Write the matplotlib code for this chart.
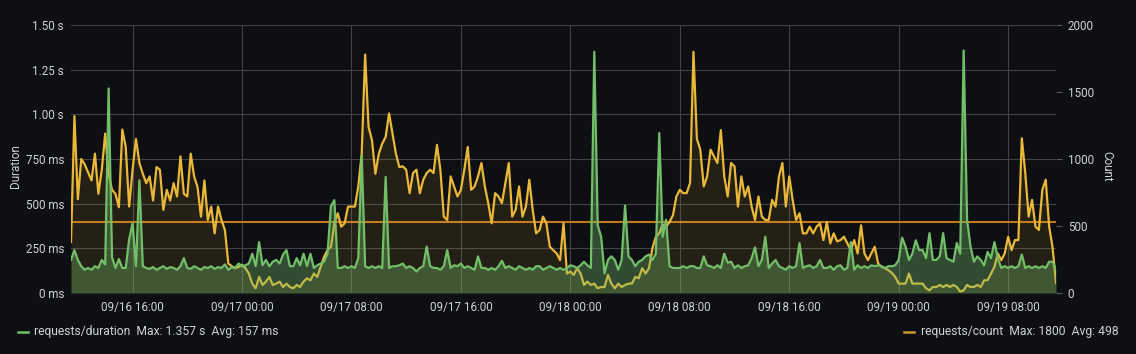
import numpy as np
import pandas as pd
import matplotlib
matplotlib.use('Agg')
import matplotlib.pyplot as plt
import matplotlib.dates as mdates
from matplotlib.lines import Line2D

# requests/count, one value every 15 min from 09/16 11:30
req_count = [
    380, 1320, 700, 1000, 960, 900, 840, 1040, 740, 920,
    1190, 890, 770, 740, 640, 1220, 1090, 645, 920, 1150,
    970, 890, 820, 870, 690, 940, 920, 620, 770, 690,
    820, 720, 1020, 740, 720, 1040, 870, 790, 570, 840,
    545, 645, 445, 645, 545, 470, 220, 200, 185,
    195, 210, 185, 145, 70, 35, 120, 60, 85, 120,
    60, 70, 85, 45, 70, 45, 35, 60, 45, 85,
    110, 95, 145, 120, 195, 270, 320, 345, 520, 595,
    495, 520, 645, 645, 645, 795, 1040, 1780, 1240, 1140,
    890, 1040, 1115, 1165, 1340, 1190, 1040, 940,
    945, 920, 745, 895, 920, 745, 845, 895, 920, 895,
    1105, 920, 570, 545, 870, 795, 720, 770, 920, 1090,
    770, 795, 870, 970, 795, 670, 520, 745, 720, 670,
    820, 970, 570, 620, 795, 570, 645, 845, 620, 445,
    470, 570, 520, 345, 320, 295, 245, 520,
    145, 160, 135, 185, 145, 60, 85, 60, 70, 35,
    45, 45, 135, 70, 35, 70, 45, 60, 70, 70,
    120, 110, 185, 145, 185, 335, 420, 445, 510, 495,
    530, 580, 720, 770, 745, 745, 820, 1800, 1150, 1070,
    795, 870, 1070, 1020, 970, 1215, 870, 720,
    970, 945, 645, 870, 720, 795, 645, 545, 720, 570,
    545, 545, 695, 645, 870, 970, 645, 870, 695, 545,
    595, 445, 445, 495, 445, 495, 520, 395, 530, 370,
    445, 385, 395, 420, 370, 320, 395, 295, 505, 295,
    245, 295, 345, 220, 195, 185, 170, 150,
    120, 70, 70, 70, 145, 70, 70, 70, 70, 35,
    20, 45, 45, 60, 45, 60, 45, 60, 45, 10,
    20, 60, 45, 45, 60, 45, 95, 95, 145, 195,
    295, 245, 295, 420, 320, 395, 395, 1155, 900, 570,
    695, 495, 470, 770, 845, 495, 340, 75,
]

# requests/duration in ms, same timestamps
req_duration = [
    185, 240, 185, 150, 130, 140, 130, 150, 140, 185,
    160, 1145, 200, 140, 190, 140, 140, 300, 390, 150,
    630, 150, 140, 135, 145, 130, 140, 150, 135, 145,
    140, 130, 150, 195, 140, 135, 150, 140, 130, 145,
    140, 150, 135, 145, 140, 160, 130, 145, 140,
    165, 150, 155, 165, 220, 150, 285, 155, 185, 150,
    175, 185, 165, 215, 240, 150, 150, 195, 155, 220,
    150, 220, 140, 155, 165, 175, 220, 485, 520, 140,
    140, 150, 140, 150, 140, 195, 770, 150, 140, 150,
    140, 150, 140, 650, 140, 150, 150, 155,
    165, 140, 150, 140, 120, 140, 150, 260, 150, 140,
    140, 130, 150, 240, 140, 155, 150, 165, 140, 150,
    140, 130, 205, 140, 140, 130, 140, 130, 150, 180,
    140, 150, 140, 130, 150, 140, 130, 140, 130, 150,
    150, 130, 140, 150, 140, 130, 140, 130,
    140, 155, 150, 140, 155, 175, 155, 140, 1350, 380,
    315, 110, 185, 205, 185, 130, 185, 490, 205, 185,
    150, 175, 185, 205, 215, 185, 220, 895, 315, 410,
    150, 140, 140, 140, 150, 140, 150, 150, 140, 140,
    205, 155, 150, 140, 155, 140, 220, 170,
    175, 140, 155, 140, 150, 155, 195, 255, 150, 185,
    315, 140, 165, 185, 150, 140, 130, 150, 140, 150,
    280, 140, 150, 155, 140, 150, 185, 140, 140, 150,
    130, 150, 155, 130, 140, 285, 130, 155, 140, 150,
    140, 155, 150, 155, 150, 140, 150, 150,
    155, 185, 310, 260, 185, 220, 295, 240, 240, 195,
    335, 185, 185, 205, 335, 195, 185, 175, 280, 220,
    1357, 410, 260, 175, 205, 185, 155, 230, 195, 285,
    195, 140, 150, 140, 150, 140, 150, 215, 140, 150,
    140, 150, 140, 150, 140, 175, 175, 130,
]

threshold_ms = 400
dur_ticks = [0, 250, 500, 750, 1000, 1250, 1500]
dur_labels = ['0 ms', '250 ms', '500 ms', '750 ms', '1.00 s', '1.25 s', '1.50 s']
count_ticks = [0, 500, 1000, 1500, 2000]
legend_dur = 'requests/duration  Max: 1.357 s  Avg: 157 ms'
legend_cnt = 'requests/count  Max: 1800  Avg: 498'

times = pd.date_range('2019-09-16 11:30', periods=len(req_count), freq='15min')

plt.rcParams['font.family'] = ['Roboto', 'DejaVu Sans']

BG = '#0e0f12'
TXT = '#d0d2d9'
GRID = '#414349'
GREEN = '#73bf69'
YELLOW = '#eab839'
THRESH = '#c4781e'
FS = 8.4
LW = 1.6

W, H = 1136, 354
fig = plt.figure(figsize=(W / 100, H / 100), dpi=100)
fig.patch.set_facecolor(BG)
rect = [71 / W, 61 / H, 985 / W, 268 / H]

# background axes: grid + threshold, duration scale
gax = fig.add_axes(rect)
gax.set_facecolor(BG)
ax_c = fig.add_axes(rect, sharex=gax)
ax_d = fig.add_axes(rect, sharex=gax)
for a, z in ((gax, 0), (ax_c, 1), (ax_d, 2)):
    a.set_zorder(z)
    for s in a.spines.values():
        s.set_visible(False)
ax_c.patch.set_visible(False)
ax_d.patch.set_visible(False)

gax.set_ylim(0, 1500)
gax.set_yticks(dur_ticks)
gax.tick_params(axis='y', left=False, labelleft=False)
gax.grid(True, color=GRID, lw=0.8)
gax.axhline(threshold_ms, color=THRESH, lw=1.5)

gax.xaxis.set_major_locator(mdates.HourLocator(byhour=[0, 8, 16]))
gax.xaxis.set_major_formatter(mdates.DateFormatter('%m/%d %H:%M'))
gax.set_xlim(times[0], times[-1])
gax.tick_params(axis='x', length=0, pad=5.5, labelsize=FS, labelcolor=TXT)

# count (yellow, right axis)
ax_c.fill_between(times, 0, req_count, color=YELLOW, alpha=0.1, lw=0)
ax_c.plot(times, req_count, color=YELLOW, lw=LW)
ax_c.set_ylim(0, 2000)
ax_c.yaxis.tick_right()
ax_c.set_yticks(count_ticks)
ax_c.tick_params(axis='y', length=4, width=0.8, color='#5a5c62', pad=4.5,
                 labelsize=FS, labelcolor=TXT)
ax_c.tick_params(axis='x', bottom=False, labelbottom=False)

# duration (green, left axis)
ax_d.fill_between(times, 0, req_duration, color=GREEN, alpha=0.35, lw=0)
ax_d.plot(times, req_duration, color=GREEN, lw=LW)
ax_d.set_ylim(0, 1500)
ax_d.set_yticks(dur_ticks)
ax_d.set_yticklabels(dur_labels)
ax_d.tick_params(axis='y', length=0, pad=5, labelsize=FS, labelcolor=TXT)
ax_d.tick_params(axis='x', bottom=False, labelbottom=False)

fig.text(16 / W, 1 - 166 / H, 'Duration', rotation=90, ha='center', va='center',
         color=TXT, fontsize=FS)
fig.text(1107 / W, 1 - 166 / H, 'Count', rotation=270, ha='center', va='center',
         color=TXT, fontsize=FS)

# legend
ly = 1 - 332 / H
fig.add_artist(Line2D([18 / W, 28 / W], [ly, ly], color=GREEN, lw=1.8,
                      transform=fig.transFigure))
fig.text(34 / W, ly, legend_dur, ha='left', va='center', color=TXT, fontsize=8.7)
fig.add_artist(Line2D([904 / W, 914 / W], [ly, ly], color='#c99a30', lw=1.8,
                      transform=fig.transFigure))
fig.text(921 / W, ly, legend_cnt, ha='left', va='center', color=TXT, fontsize=8.7)

fig.savefig('out.png', dpi=100, facecolor=BG)
